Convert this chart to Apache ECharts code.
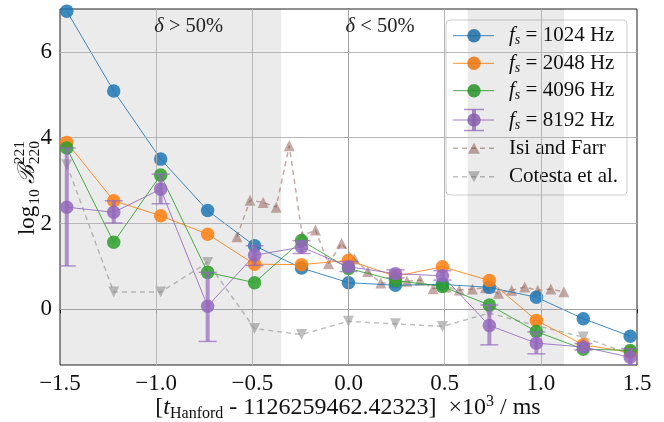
<!DOCTYPE html>
<html><head><meta charset="utf-8">
<script src="https://cdn.jsdelivr.net/npm/echarts@6/dist/echarts.min.js"></script>
<style>html,body{margin:0;padding:0;background:#fff}#c{width:664px;height:422px}</style>
</head><body><div id="c"></div>
<script>
// ---- data ----
const xPoints = [-1.4648, -1.2207, -0.9766, -0.7324, -0.4883, -0.2441, 0.0, 0.2441, 0.4883, 0.7324, 0.9766, 1.2207, 1.4648];
const fs1024 = [6.95, 5.09, 3.50, 2.30, 1.48, 0.96, 0.62, 0.56, 0.58, 0.51, 0.28, -0.22, -0.63];
const fs2048 = [3.89, 2.53, 2.18, 1.75, 1.05, 1.04, 1.14, 0.77, 0.99, 0.67, -0.26, -0.83, -1.00];
const fs4096 = [3.76, 1.56, 3.13, 0.86, 0.62, 1.60, 0.95, 0.67, 0.53, 0.10, -0.52, -0.93, -0.96];
const fs8192 = [2.38, 2.26, 2.80, 0.07, 1.26, 1.45, 0.99, 0.83, 0.78, -0.38, -0.79, -0.88, -1.12];
const fs8192Low = [1.01, 2.01, 2.46, -0.75, 1.02, 1.30, 0.88, 0.73, 0.68, -0.83, -1.04, -0.95, -1.30];
const fs8192High = [3.76, 2.53, 3.15, 0.86, 1.48, 1.60, 1.11, 0.92, 0.90, 0.10, -0.53, -0.80, -0.92];
const isiX = [-0.58, -0.512, -0.444, -0.376, -0.308, -0.24, -0.172, -0.104, -0.036, 0.032, 0.10, 0.168, 0.236, 0.304, 0.372, 0.44, 0.508, 0.576, 0.644, 0.712, 0.78, 0.848, 0.916, 0.984, 1.052, 1.12];
const isiY = [1.69, 2.54, 2.49, 2.38, 3.81, 1.71, 1.85, 1.06, 1.54, 1.17, 0.88, 0.61, 0.62, 0.65, 0.68, 0.48, 0.52, 0.45, 0.47, 0.50, 0.37, 0.44, 0.52, 0.44, 0.47, 0.41];
const cotestaY = [3.37, 0.40, 0.40, 1.09, -0.45, -0.59, -0.28, -0.34, -0.40, -0.09, -0.38, -0.65, -1.05];
const xTicks = [-1.5, -1.0, -0.5, 0.0, 0.5, 1.0, 1.5];
const yTicks = [0, 2, 4, 6];
const shadedRanges = [[-1.5, -0.35], [0.62, 1.12]];
const legendLabels = ['1024', '2048', '4096', '8192'];
const regionLabels = [{x: -1.01, y: 6.59, text: '>'}, {x: -0.015, y: 6.59, text: '<'}];

const FONT = '"Liberation Serif", "DejaVu Serif", serif';
const C = {blue:'#1f77b4', orange:'#ff7f0e', green:'#2ca02c', purple:'#9467bd', brown:'#8c564b', gray:'#7f7f7f'};
const zip = (xs, ys) => xs.map((x, i) => [x, ys[i]]);

const chart = echarts.init(document.getElementById('c'), null, {renderer: 'canvas'});

function lineSeries(name, ys, color, z) {
  return {
    name, type: 'line', data: zip(xPoints, ys), z,
    symbol: 'circle', symbolSize: 13.5, showAllSymbol: true,
    itemStyle: {color, opacity: 0.85},
    lineStyle: {color, width: 1, opacity: 0.85},
    emphasis: {disabled: true}
  };
}

const option = {
  animation: false,
  grid: {left: 60, right: 27, top: 9, bottom: 57, show: true, borderColor: '#222', borderWidth: 1, backgroundColor: 'transparent'},
  xAxis: {
    type: 'value', min: -1.5, max: 1.5, interval: 0.5,
    axisLine: {show: true, lineStyle: {color: '#222', width: 1}},
    axisTick: {show: true, inside: false, length: 4, lineStyle: {color: '#222'}},
    splitLine: {show: false},
    axisLabel: {fontFamily: FONT, fontSize: 23, color: '#111', margin: 7,
      formatter: v => (v < 0 ? '\u2212' : '') + Math.abs(v).toFixed(1)}
  },
  yAxis: {
    type: 'value', min: -1.3, max: 7,
    axisLine: {show: true, lineStyle: {color: '#222', width: 1}},
    axisTick: {show: true, inside: false, length: 4, lineStyle: {color: '#222'}, customValues: yTicks},
    splitLine: {show: false},
    axisLabel: {fontFamily: FONT, fontSize: 23, color: '#111', margin: 8, customValues: yTicks,
      formatter: v => String(v)}
  },
  series: [
    {type: 'line', data: [], z: 1, silent: true,
      markArea: {silent: true, itemStyle: {color: 'rgba(0,0,0,0.078)'},
        data: shadedRanges.map(r => [{xAxis: r[0]}, {xAxis: r[1]}])}},
    {type: 'line', data: [], z: 2, silent: true,
      markLine: {silent: true, symbol: ['none', 'none'], label: {show: false},
        lineStyle: {color: '#b0b0b0', width: 0.9, type: 'solid'},
        data: xTicks.slice(1, -1).map(v => ({xAxis: v})).concat(yTicks.map(v => ({yAxis: v})))}},
    {name: 'Cotesta', type: 'line', data: zip(xPoints, cotestaY), z: 3,
      symbol: 'triangle', symbolRotate: 180, symbolSize: 11,
      itemStyle: {color: C.gray, opacity: 0.5}, lineStyle: {color: C.gray, width: 1.5, type: [5, 4], opacity: 0.5}},
    {name: 'Isi', type: 'line', data: zip(isiX, isiY), z: 3,
      symbol: 'triangle', symbolSize: 11,
      itemStyle: {color: C.brown, opacity: 0.5}, lineStyle: {color: C.brown, width: 1.5, type: [5, 4], opacity: 0.5}},
    lineSeries('1024', fs1024, C.blue, 4),
    lineSeries('2048', fs2048, C.orange, 5),
    lineSeries('4096', fs4096, C.green, 6),
    lineSeries('8192', fs8192, C.purple, 7),
    {type: 'custom', z: 7, silent: true, clip: true,
      data: xPoints.map((x, i) => [x, fs8192Low[i], fs8192High[i]]),
      encode: {x: 0, y: [1, 2]},
      renderItem(params, api) {
        const lo = api.coord([api.value(0), api.value(1)]);
        const hi = api.coord([api.value(0), api.value(2)]);
        const cw = 9;
        const s = {stroke: C.purple, opacity: 0.7};
        return {type: 'group', children: [
          {type: 'line', shape: {x1: lo[0], y1: lo[1], x2: hi[0], y2: hi[1]}, style: Object.assign({lineWidth: 4}, s)},
          {type: 'line', shape: {x1: lo[0] - cw, y1: lo[1], x2: lo[0] + cw, y2: lo[1]}, style: Object.assign({lineWidth: 1.5}, s)},
          {type: 'line', shape: {x1: hi[0] - cw, y1: hi[1], x2: hi[0] + cw, y2: hi[1]}, style: Object.assign({lineWidth: 1.5}, s)}
        ]};
      }}
  ]
};
chart.setOption(option);

// ---- text / legend graphics ----
const mctx = document.createElement('canvas').getContext('2d');
function tw(text, size, style) { mctx.font = (style || 'normal') + ' ' + size + 'px ' + FONT; return mctx.measureText(text).width; }

const graphics = [];
// region labels
regionLabels.forEach(r => {
  const p = chart.convertToPixel({gridIndex: 0}, [r.x, r.y]);
  graphics.push({type: 'text', x: p[0], y: p[1], z: 20, silent: true,
    style: {text: '{d|δ} ' + r.text + ' 50%', fill: '#222', font: '20.5px ' + FONT, align: 'left', verticalAlign: 'middle',
      rich: {d: {fontStyle: 'italic', fontSize: 20.5, fontFamily: FONT, fill: '#222'}}}});
});

// x-axis title
graphics.push({type: 'text', x: 348, y: 408, z: 20, silent: true,
  style: {text: '[{t|t}{sub|Hanford} - 1126259462.42323]  ×10{sup|3} / ms', fill: '#111', font: '24px ' + FONT,
    lineHeight: 28, align: 'center', verticalAlign: 'middle',
    rich: {
      t: {fontStyle: 'italic', fontSize: 24, fontFamily: FONT, fill: '#111', lineHeight: 28},
      sub: {fontSize: 16, fontFamily: FONT, fill: '#111', verticalAlign: 'bottom', lineHeight: 13},
      sup: {fontSize: 16, fontFamily: FONT, fill: '#111', verticalAlign: 'top', lineHeight: 13}
    }}});

// y-axis title (rotated)
(function () {
  const wl = tw('log', 23), w10 = tw('10', 15.5), wb = tw('ℬ', 23, 'italic'), ws = Math.max(tw('221', 15.5), tw('220', 15.5));
  const gap = 5;
  const total = wl + 1 + w10 + gap + wb + 1 + ws;
  const x0 = -total / 2;
  const base = {fill: '#111', align: 'left', verticalAlign: 'middle'};
  const T = (text, x, y, size, st) => ({type: 'text', x, y, silent: true,
    style: Object.assign({text, font: (st || 'normal') + ' ' + size + 'px ' + FONT}, base)});
  graphics.push({type: 'group', x: 28, y: 188, rotation: Math.PI / 2, z: 20, silent: true, children: [
    T('log', x0, 0, 23),
    T('10', x0 + wl + 1, 7, 15.5),
    T('ℬ', x0 + wl + 1 + w10 + gap, 0, 23, 'italic'),
    T('221', x0 + wl + 1 + w10 + gap + wb + 1, -8, 15.5),
    T('220', x0 + wl + 1 + w10 + gap + wb + 1, 7, 15.5)
  ]});
})();

// legend
(function () {
  const bx = 446, by = 20, bw = 181, bh = 175;
  const rows = [35.7, 63.3, 90.7, 120, 148.3, 176.7];
  const lx1 = 453, lx2 = 494, mx = 474, tx = 509;
  const children = [{type: 'rect', shape: {x: bx, y: by, width: bw, height: bh, r: 4},
    style: {fill: 'rgba(255,255,255,0.8)', stroke: '#cccccc', lineWidth: 1}}];
  const cols = [C.blue, C.orange, C.green, C.purple];
  legendLabels.forEach((lab, i) => {
    const y = rows[i], col = cols[i];
    children.push({type: 'line', shape: {x1: lx1, y1: y, x2: lx2, y2: y}, style: {stroke: col, lineWidth: 1, opacity: 0.85}});
    if (i === 3) {
      children.push({type: 'line', shape: {x1: mx, y1: y - 10.5, x2: mx, y2: y + 10.5}, style: {stroke: col, lineWidth: 4, opacity: 0.7}});
      children.push({type: 'line', shape: {x1: mx - 10, y1: y - 10.5, x2: mx + 10, y2: y - 10.5}, style: {stroke: col, lineWidth: 1.5, opacity: 0.7}});
      children.push({type: 'line', shape: {x1: mx - 10, y1: y + 10.5, x2: mx + 10, y2: y + 10.5}, style: {stroke: col, lineWidth: 1.5, opacity: 0.7}});
    }
    children.push({type: 'circle', shape: {cx: mx, cy: y, r: 6.75}, style: {fill: col, opacity: 0.85}});
    children.push({type: 'text', x: tx, y: y, style: {text: '{f|f}{s|s} = ' + lab + ' Hz', fill: '#111', font: '21px ' + FONT,
      lineHeight: 24, align: 'left', verticalAlign: 'middle',
      rich: {f: {fontStyle: 'italic', fontSize: 21, fontFamily: FONT, fill: '#111', lineHeight: 24},
        s: {fontStyle: 'italic', fontSize: 14, fontFamily: FONT, fill: '#111', verticalAlign: 'bottom', lineHeight: 11}}}});
  });
  const dash = [[C.brown, 'Isi and Farr', 0], [C.gray, 'Cotesta et al.', Math.PI]];
  dash.forEach((d, j) => {
    const y = rows[4 + j];
    children.push({type: 'line', shape: {x1: lx1, y1: y, x2: lx2, y2: y}, style: {stroke: d[0], lineWidth: 1.5, lineDash: [5, 4], opacity: 0.5}});
    const s = 6, h = 5.5;
    const pts = j === 0 ? [[mx, y - h], [mx - s, y + h], [mx + s, y + h]] : [[mx, y + h], [mx - s, y - h], [mx + s, y - h]];
    children.push({type: 'polygon', shape: {points: pts}, style: {fill: d[0], opacity: 0.5}});
    children.push({type: 'text', x: tx, y: y, style: {text: d[1], fill: '#111', font: '21px ' + FONT, align: 'left', verticalAlign: 'middle'}});
  });
  graphics.push({type: 'group', z: 30, silent: true, children});
})();

chart.setOption({graphic: graphics});
</script>
</body></html>
